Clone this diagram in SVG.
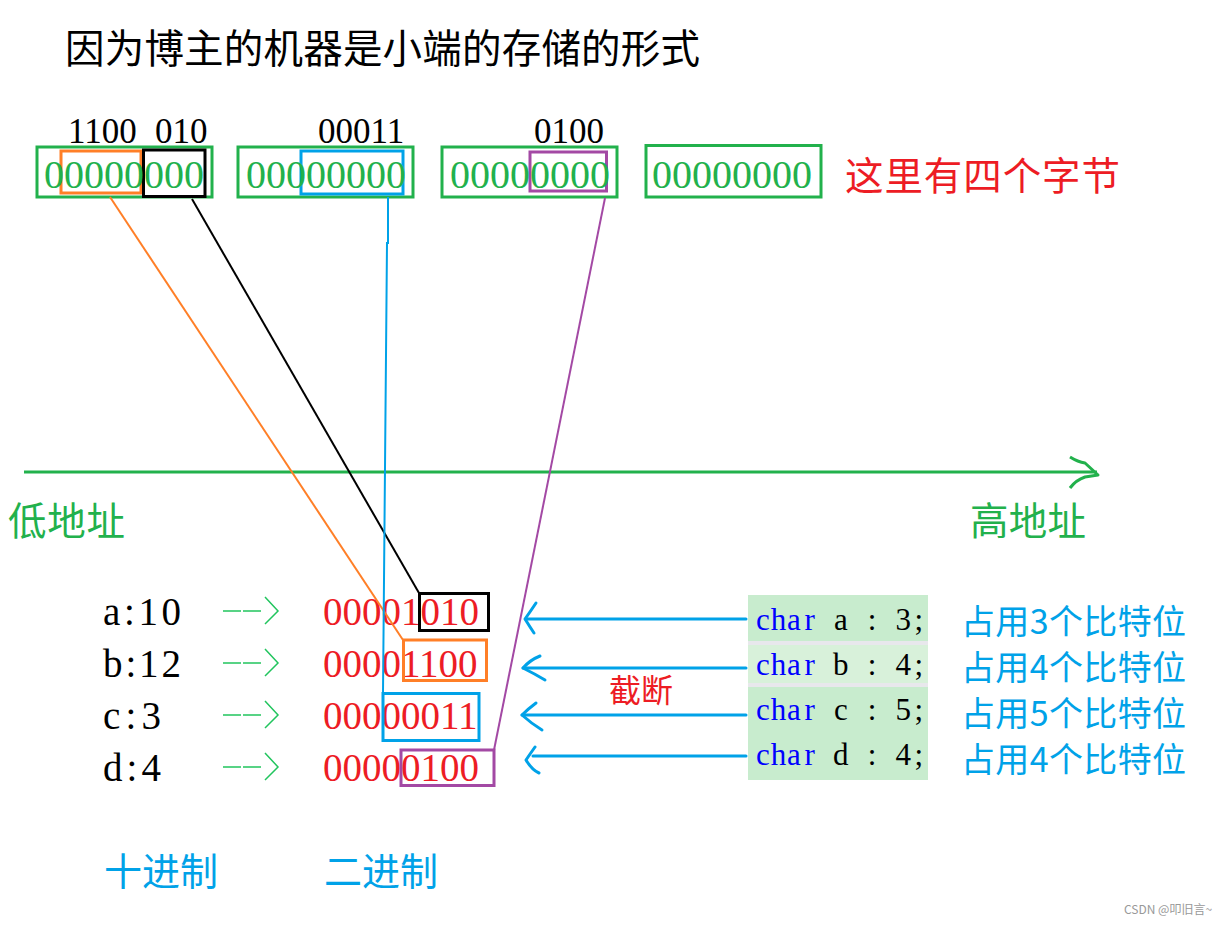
<svg xmlns="http://www.w3.org/2000/svg" width="1231" height="925" viewBox="0 0 1231 925">
<style>
.cjk{font-family:'Noto Sans CJK SC',sans-serif}
.ser{font-family:'Liberation Serif',serif}
.code{font-family:'Liberation Serif',serif;font-size:31px;text-anchor:middle;fill:#000}
.kw{fill:#0000ff}
.g{fill:#22b14c}
.r{fill:#ed1c24}
.b{fill:#00a2e8}
.k{fill:#000}
.box{fill:none;stroke-width:3}
.gs{stroke:#22b14c}
.os{stroke:#ff7f27}
.ks{stroke:#000}
.bs{stroke:#00a2e8}
.ps{stroke:#a349a4}
.ln{fill:none;stroke-width:2}
.arr{fill:none;stroke:#00a2e8;stroke-width:3;stroke-linecap:round;stroke-linejoin:round}
.ga{fill:none;stroke:#22c55e;stroke-width:1.5}
</style>
<rect width="1231" height="925" fill="#fff"/>
<g id="title"><text class="cjk k" x="65" y="63" font-size="39.5" textLength="635" lengthAdjust="spacing">因为博主的机器是小端的存储的形式</text></g>

<g id="byte1">
<rect class="box gs" x="37" y="147" width="175" height="50"/>
<rect class="box os" x="61" y="151" width="80" height="42"/>
<rect class="box ks" x="143.5" y="150" width="61.5" height="46.5"/>
<text class="ser g" x="44" y="188" font-size="40">00000000</text>
<text class="ser k" x="68" y="143" font-size="35">1100</text>
<text class="ser k" x="155" y="143" font-size="35">010</text>
</g>
<g id="byte2">
<rect class="box gs" x="238" y="147" width="175" height="50"/>
<rect class="box bs" x="301" y="151" width="102" height="43"/>
<text class="ser g" x="246" y="188" font-size="40">00000000</text>
<text class="ser k" x="318" y="143" font-size="35">00011</text>
</g>
<g id="byte3">
<rect class="box gs" x="442" y="147" width="175" height="50"/>
<rect class="box ps" x="530" y="152" width="76.5" height="39"/>
<text class="ser g" x="450" y="188" font-size="40">00000000</text>
<text class="ser k" x="534" y="143" font-size="35">0100</text>
</g>
<g id="byte4">
<rect class="box gs" x="646" y="145.5" width="175" height="51.5"/>
<text class="ser g" x="652" y="188" font-size="40">00000000</text>
</g>
<g id="note4"><text class="cjk r" x="845" y="190" font-size="38.5" textLength="275" lengthAdjust="spacing">这里有四个字节</text></g>

<g id="axis">
<line x1="24" y1="472" x2="1097" y2="472" stroke="#22b14c" stroke-width="3"/>
<path d="M1070,457 Q1078,462 1085,463 L1098,475 L1085,477 Q1076,480 1070,488" fill="none" stroke="#22b14c" stroke-width="3" stroke-linejoin="round"/>
<text class="cjk g" x="8" y="535" font-size="38.5" textLength="117" lengthAdjust="spacing">低地址</text>
<text class="cjk g" x="970" y="535" font-size="38.5" textLength="116" lengthAdjust="spacing">高地址</text>
</g>

<g id="decimal">
<text class="ser k" x="103" y="625" font-size="39" textLength="78" lengthAdjust="spacing">a:10</text>
<text class="ser k" x="103" y="677" font-size="39" textLength="78" lengthAdjust="spacing">b:12</text>
<text class="ser k" x="103" y="729" font-size="39" textLength="58" lengthAdjust="spacing">c:3</text>
<text class="ser k" x="103" y="781" font-size="39" textLength="58" lengthAdjust="spacing">d:4</text>
</g>

<g id="binary">
<text class="ser r" x="323" y="625" font-size="39">00001010</text>
<text class="ser r" x="323" y="677" font-size="39">00001100</text>
<text class="ser r" x="323" y="729" font-size="39">00000011</text>
<text class="ser r" x="323" y="781" font-size="39">00000100</text>
<rect class="box ks" x="419.5" y="593.5" width="69" height="37"/>
<rect class="box os" x="403.5" y="640" width="83" height="40.5"/>
<rect class="box bs" x="383" y="693.5" width="96" height="47"/>
<rect class="box ps" x="401" y="750" width="93" height="35.5"/>
</g>

<g id="code">
<rect x="748" y="595" width="180" height="46" fill="#c8ecce"/>
<rect x="748" y="641" width="180" height="4" fill="#e8e8ec"/>
<rect x="748" y="645" width="180" height="38" fill="#d8f1da"/>
<rect x="748" y="683" width="180" height="4" fill="#e8e8ec"/>
<rect x="748" y="687" width="180" height="93" fill="#c8ecce"/>
<text class="code" y="630"><tspan class="kw" x="762.8 778.4 794 809.6">char</tspan><tspan x="825.2 840.8 856.4 872 887.6 903.2 918.8"> a : 3;</tspan></text>
<text class="code" y="675"><tspan class="kw" x="762.8 778.4 794 809.6">char</tspan><tspan x="825.2 840.8 856.4 872 887.6 903.2 918.8"> b : 4;</tspan></text>
<text class="code" y="720"><tspan class="kw" x="762.8 778.4 794 809.6">char</tspan><tspan x="825.2 840.8 856.4 872 887.6 903.2 918.8"> c : 5;</tspan></text>
<text class="code" y="765"><tspan class="kw" x="762.8 778.4 794 809.6">char</tspan><tspan x="825.2 840.8 856.4 872 887.6 903.2 918.8"> d : 4;</tspan></text>
</g>

<g id="bits">
<text class="cjk b" x="961" y="634" font-size="34" textLength="225" lengthAdjust="spacing">占用3个比特位</text>
<text class="cjk b" x="961" y="680" font-size="34" textLength="225" lengthAdjust="spacing">占用4个比特位</text>
<text class="cjk b" x="961" y="726" font-size="34" textLength="225" lengthAdjust="spacing">占用5个比特位</text>
<text class="cjk b" x="961" y="772" font-size="34" textLength="225" lengthAdjust="spacing">占用4个比特位</text>
</g>

<g id="trunc"><text class="cjk r" x="609" y="702" font-size="32">截断</text></g>

<g id="bottom">
<text class="cjk b" x="104" y="885" font-size="38" textLength="114" lengthAdjust="spacing">十进制</text>
<text class="cjk b" x="324" y="885" font-size="38" textLength="114" lengthAdjust="spacing">二进制</text>
</g>

<g id="connectors">
<line class="ln os" x1="110" y1="197" x2="403" y2="640"/>
<line class="ln ks" x1="192" y1="199" x2="419" y2="593"/>
<polyline class="ln bs" points="388,197 388,243 387,243 383,693" stroke-width="3"/>
<line class="ln ps" x1="605" y1="198" x2="494" y2="750" stroke-width="3"/>
<line class="arr" x1="526" y1="619" x2="746" y2="619"/>
<path class="arr" d="M536,603 Q530,612 525,619 Q530,627 534,633"/>
<line class="arr" x1="523" y1="668" x2="746" y2="668"/>
<path class="arr" d="M540,656 Q530,660 523,668 Q535,674 545,680"/>
<line class="arr" x1="522" y1="715" x2="746" y2="715"/>
<path class="arr" d="M536,703 Q528,709 522,715 Q532,724 542,730"/>
<line class="arr" x1="533" y1="756" x2="746" y2="756"/>
<path class="arr" d="M535,747 Q530,754 526,760 Q532,770 539,773"/>
<g class="ga">
<path d="M223,611 H241 M243,611 H261 M265,597 L278,611 L265,624"/>
<path d="M223,663 H241 M243,663 H261 M265,649 L278,663 L265,676"/>
<path d="M223,715 H241 M243,715 H261 M265,701 L278,715 L265,728"/>
<path d="M223,767 H241 M243,767 H261 M265,753 L278,767 L265,780"/>
</g>
</g>

<g id="watermark"><text x="1124" y="914" font-size="12" fill="#999" font-family="'Noto Sans CJK SC',sans-serif">CSDN @叩旧言~</text></g>
</svg>
